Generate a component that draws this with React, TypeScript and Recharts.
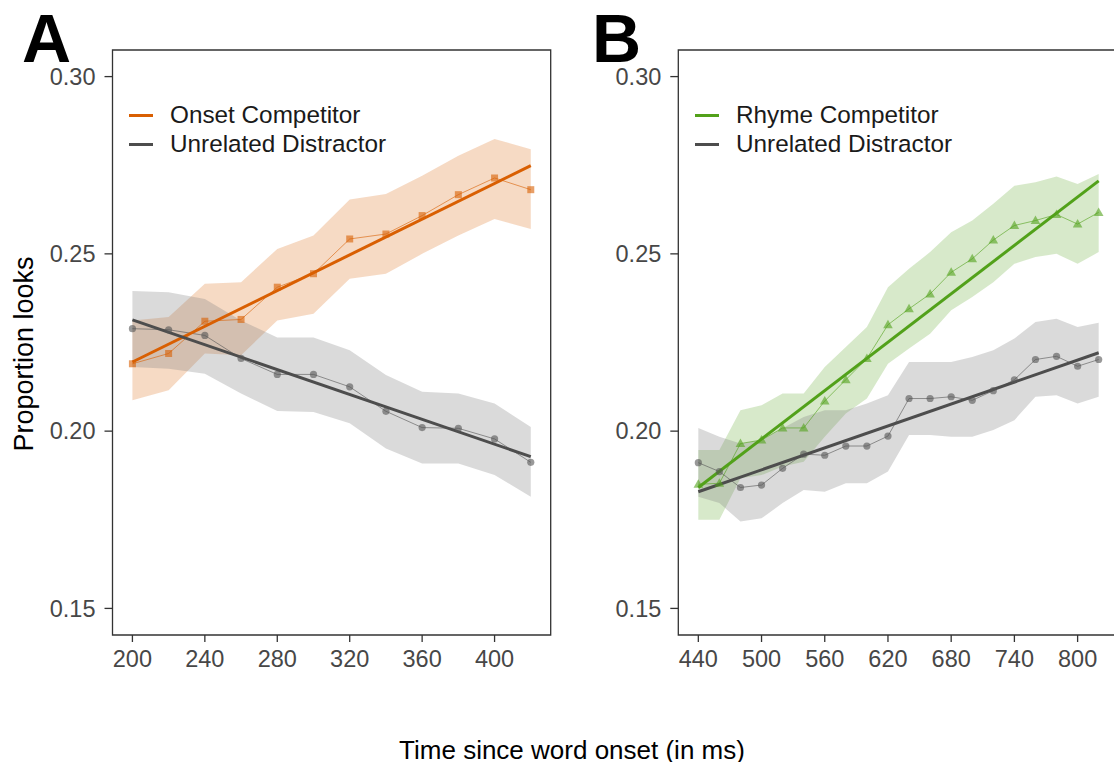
import { Area, ComposedChart, Legend, Line, ReferenceArea, XAxis, YAxis } from 'recharts';

// panel A: onset competitor vs unrelated distractor
const timesA = [200, 220, 240, 260, 280, 300, 320, 340, 360, 380, 400, 420];
const onsetMean = [0.219, 0.2219, 0.231, 0.2315, 0.2406, 0.2444, 0.2542, 0.2556, 0.2608, 0.2667, 0.2714, 0.2681];
const onsetLow = [0.2087, 0.2115, 0.2219, 0.2214, 0.2312, 0.2331, 0.243, 0.2444, 0.25, 0.2552, 0.2598, 0.257];
const onsetHigh = [0.2312, 0.2322, 0.2416, 0.242, 0.2514, 0.2552, 0.2653, 0.2669, 0.272, 0.2777, 0.2824, 0.2795];
const onsetFit = [0.2195, 0.2749];
const unrelAMean = [0.2289, 0.2286, 0.227, 0.2205, 0.216, 0.216, 0.2125, 0.2056, 0.201, 0.2008, 0.1978, 0.1912];
const unrelALow = [0.2181, 0.2176, 0.2162, 0.2106, 0.2057, 0.2054, 0.2022, 0.1951, 0.1909, 0.1909, 0.1876, 0.1815];
const unrelAHigh = [0.2395, 0.2392, 0.2373, 0.2312, 0.2264, 0.2264, 0.2228, 0.2158, 0.2111, 0.2106, 0.2078, 0.2012];
const unrelAFit = [0.2314, 0.1928];

// panel B: rhyme competitor vs unrelated distractor
const timesB = [440, 460, 480, 500, 520, 540, 560, 580, 600, 620, 640, 660, 680, 700, 720, 740, 760, 780, 800, 820];
const rhymeMean = [0.185, 0.1853, 0.1965, 0.1975, 0.2009, 0.2009, 0.2085, 0.2145, 0.2205, 0.23, 0.2345, 0.2387, 0.2448, 0.2486, 0.2539, 0.258, 0.2594, 0.2611, 0.2584, 0.2617];
const rhymeLow = [0.175, 0.175, 0.1867, 0.1876, 0.19, 0.1914, 0.1984, 0.205, 0.2092, 0.219, 0.2233, 0.2275, 0.2341, 0.2378, 0.242, 0.2472, 0.2491, 0.25, 0.2472, 0.2505];
const rhymeHigh = [0.1947, 0.1947, 0.2059, 0.2073, 0.2106, 0.2106, 0.2181, 0.2237, 0.2294, 0.2406, 0.2458, 0.2505, 0.2561, 0.2594, 0.2641, 0.2692, 0.2702, 0.2718, 0.2697, 0.2725];
const rhymeFit = [0.1841, 0.2706];
const unrelBMean = [0.1911, 0.1886, 0.1841, 0.1848, 0.1895, 0.1935, 0.1932, 0.1958, 0.1958, 0.1986, 0.2092, 0.2092, 0.2097, 0.2087, 0.2114, 0.2145, 0.2202, 0.2211, 0.2183, 0.2202];
const unrelBLow = [0.1815, 0.1797, 0.1745, 0.1754, 0.1797, 0.1834, 0.1829, 0.1853, 0.1853, 0.1886, 0.1989, 0.1989, 0.1984, 0.1984, 0.2003, 0.2031, 0.2097, 0.2101, 0.2078, 0.2097];
const unrelBHigh = [0.2009, 0.1984, 0.1965, 0.1975, 0.2008, 0.204, 0.2059, 0.2059, 0.2078, 0.2101, 0.2195, 0.2195, 0.2195, 0.2209, 0.2228, 0.2261, 0.2308, 0.2317, 0.2294, 0.2306];
const unrelBFit = [0.1829, 0.2221];

const yTicks = [0.15, 0.2, 0.25, 0.3];
const ticksA = [200, 240, 280, 320, 360, 400];
const ticksB = [440, 500, 560, 620, 680, 740, 800];

const ORANGE = '#d95f02';
const GREEN = '#52a11a';
const GREY = '#4d4d4d';
const FONT = '"Liberation Sans", Arial, sans-serif';

function buildRows(times: number[], cMean: number[], cLow: number[], cHigh: number[], cFit: number[],
    uMean: number[], uLow: number[], uHigh: number[], uFit: number[]) {
    const last = times.length - 1;
    return times.map((t, i) => ({
        t,
        comp: cMean[i],
        compBand: [cLow[i], cHigh[i]],
        compFit: i === 0 ? cFit[0] : i === last ? cFit[1] : null,
        unrel: uMean[i],
        unrelBand: [uLow[i], uHigh[i]],
        unrelFit: i === 0 ? uFit[0] : i === last ? uFit[1] : null,
    }));
}

const rowsA = buildRows(timesA, onsetMean, onsetLow, onsetHigh, onsetFit, unrelAMean, unrelALow, unrelAHigh, unrelAFit);
const rowsB = buildRows(timesB, rhymeMean, rhymeLow, rhymeHigh, rhymeFit, unrelBMean, unrelBLow, unrelBHigh, unrelBFit);

const Square = (p: any) => <rect key={p.index} x={p.cx - 3.5} y={p.cy - 3.5} width={7} height={7} fill={ORANGE} fillOpacity={0.6} />;
const Tri = (p: any) => (
    <path key={p.index} d={`M${p.cx},${p.cy - 5} L${p.cx + 4.8},${p.cy + 3.5} L${p.cx - 4.8},${p.cy + 3.5} Z`} fill={GREEN} fillOpacity={0.6} />
);
const Dot = (p: any) => <circle key={p.index} cx={p.cx} cy={p.cy} r={3.6} fill="#555" fillOpacity={0.6} />;

function LegendBox({ items }: { items: { label: string; color: string }[] }) {
    return (
        <div style={{ fontFamily: FONT, fontSize: 24.3, color: '#1a1a1a' }}>
            {items.map((it) => (
                <div key={it.label} style={{ display: 'flex', alignItems: 'center', height: 29, whiteSpace: 'nowrap' }}>
                    <span style={{ width: 24, height: 3, background: it.color, marginRight: 17, display: 'inline-block' }} />
                    <span>{it.label}</span>
                </div>
            ))}
        </div>
    );
}

interface PanelProps {
    rows: any[];
    domain: [number, number];
    ticks: number[];
    color: string;
    marker: (p: any) => any;
    label: string;
    yAxisWidth: number;
    rightMargin: number;
    legendLeft: number;
}

function Panel({ rows, domain, ticks, color, marker, label, yAxisWidth, rightMargin, legendLeft }: PanelProps) {
    const yDomain: [number, number] = [0.1425, 0.3075];
    const tick = { fill: '#474747', fontSize: 23.5, fontFamily: FONT };
    return (
        <ComposedChart width={560} height={700} data={rows} margin={{ top: 50, right: rightMargin, bottom: 0, left: 0 }}>
            <XAxis dataKey="t" type="number" domain={domain} ticks={ticks} allowDataOverflow axisLine={false}
                tickSize={7} tickMargin={8} tickLine={{ stroke: '#333', strokeWidth: 1.3 }} tick={tick} height={65} />
            <YAxis type="number" domain={yDomain} ticks={yTicks} allowDataOverflow axisLine={false}
                tickSize={8} tickMargin={9} tickLine={{ stroke: '#333', strokeWidth: 1.3 }} tick={tick}
                tickFormatter={(v: number) => v.toFixed(2)} width={yAxisWidth} />
            <Area dataKey="compBand" type="linear" stroke="none" fill={color} fillOpacity={0.23} isAnimationActive={false} activeDot={false} />
            <Area dataKey="unrelBand" type="linear" stroke="none" fill="#808080" fillOpacity={0.29} isAnimationActive={false} activeDot={false} />
            <Line dataKey="comp" type="linear" stroke={color} strokeOpacity={0.6} strokeWidth={1} dot={marker} activeDot={false} isAnimationActive={false} />
            <Line dataKey="unrel" type="linear" stroke="#555" strokeOpacity={0.6} strokeWidth={1} dot={Dot} activeDot={false} isAnimationActive={false} />
            <Line dataKey="compFit" type="linear" connectNulls stroke={color} strokeWidth={3} dot={false} activeDot={false} isAnimationActive={false} />
            <Line dataKey="unrelFit" type="linear" connectNulls stroke={GREY} strokeWidth={3} dot={false} activeDot={false} isAnimationActive={false} />
            <ReferenceArea x1={domain[0]} x2={domain[1]} y1={yDomain[0]} y2={yDomain[1]} fill="none" stroke="#333" strokeWidth={1.3} ifOverflow="visible" />
            <Legend layout="vertical" align="center" verticalAlign="middle"
                wrapperStyle={{ left: legendLeft, top: 100.5, width: 'auto', height: 'auto' }}
                content={() => <LegendBox items={[{ label, color }, { label: 'Unrelated Distractor', color: GREY }]} />} />
        </ComposedChart>
    );
}

export default function App() {
    return (
        <div style={{ position: 'absolute', left: 0, top: 0, width: 1114, height: 762, overflow: 'hidden', background: '#fff', fontFamily: FONT }}>
            <div style={{ position: 'absolute', left: 0, top: 0 }}>
                <Panel rows={rowsA} domain={[189, 431]} ticks={ticksA} color={ORANGE} marker={Square} label="Onset Competitor"
                    yAxisWidth={112.5} rightMargin={9.3} legendLeft={129} />
            </div>
            <div style={{ position: 'absolute', left: 570, top: 0 }}>
                <Panel rows={rowsB} domain={[421, 839]} ticks={ticksB} color={GREEN} marker={Tri} label="Rhyme Competitor"
                    yAxisWidth={108.3} rightMargin={11.3} legendLeft={125} />
            </div>
            <svg width={1114} height={762} style={{ position: 'absolute', left: 0, top: 0, pointerEvents: 'none' }}>
                <text x={22} y={62} fontSize={68} fontWeight="bold" fill="#000" fontFamily={FONT}>A</text>
                <text x={592} y={62} fontSize={68} fontWeight="bold" fill="#000" fontFamily={FONT}>B</text>
                <text x={33} y={354} fontSize={27} fill="#000" fontFamily={FONT} textAnchor="middle" transform="rotate(-90 33 354)">Proportion looks</text>
                <text x={572} y={759} fontSize={26} fill="#000" fontFamily={FONT} textAnchor="middle">Time since word onset (in ms)</text>
            </svg>
        </div>
    );
}
